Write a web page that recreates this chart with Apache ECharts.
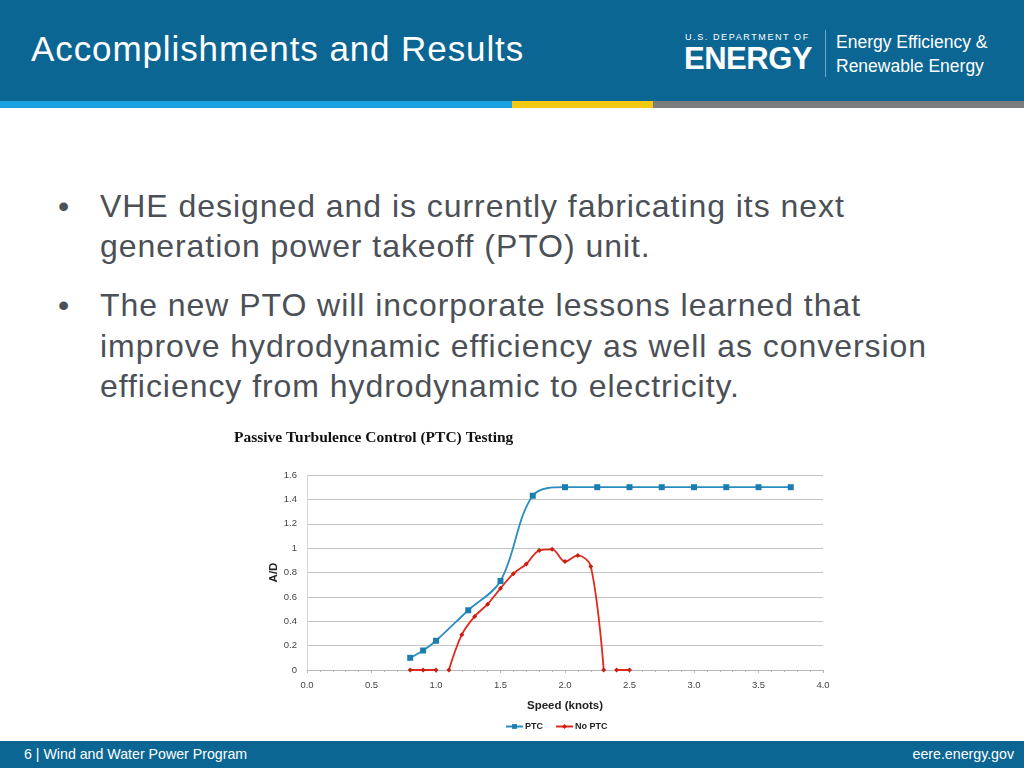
<!DOCTYPE html>
<html><head><meta charset="utf-8">
<script src="https://cdn.jsdelivr.net/npm/echarts@6/dist/echarts.min.js"></script>
<style>
html,body{margin:0;padding:0;width:1024px;height:768px;overflow:hidden;background:#fff;font-family:"Liberation Sans",Arial,sans-serif;}
.abs{position:absolute;white-space:nowrap;}
#header{position:absolute;left:0;top:0;width:1024px;height:101px;background:#0b6694;}
#footer{position:absolute;left:0;top:741px;width:1024px;height:27px;background:#0b6694;}
.line{position:absolute;left:100px;font-size:32px;letter-spacing:0.95px;color:#4b5057;line-height:40px;white-space:nowrap;}
.bul{position:absolute;left:58px;font-size:32px;color:#4b5057;line-height:40px;}
#chart{position:absolute;left:225px;top:420px;width:620px;height:320px;}
</style></head>
<body>
<div id="header"></div>
<div class="abs" style="left:0;top:101px;width:512px;height:7px;background:#1ba1dd"></div>
<div class="abs" style="left:512px;top:101px;width:141px;height:7px;background:#f3c913"></div>
<div class="abs" style="left:653px;top:101px;width:371px;height:7px;background:#7b7c7e"></div>
<div class="abs" style="left:31px;top:28px;font-size:35px;letter-spacing:0.9px;color:#fff;line-height:42px;">Accomplishments and Results</div>
<div class="abs" style="left:685px;top:31px;font-size:9px;letter-spacing:1.6px;color:#fff;line-height:12px;">U.S. DEPARTMENT OF</div>
<div class="abs" style="left:684px;top:42px;font-size:31px;font-weight:bold;color:#fff;line-height:34px;letter-spacing:-0.5px;">ENERGY</div>
<div class="abs" style="left:825px;top:30px;width:1px;height:47px;background:#6fa8c8"></div>
<div class="abs" style="left:836px;top:31px;font-size:17.5px;color:#fff;line-height:22px;">Energy Efficiency &amp;</div>
<div class="abs" style="left:836px;top:55px;font-size:17.5px;color:#fff;line-height:22px;">Renewable Energy</div>

<div class="bul" style="top:186px">•</div>
<div class="line" style="top:186px">VHE designed and is currently fabricating its next</div>
<div class="line" style="top:226px">generation power takeoff (PTO) unit.</div>
<div class="bul" style="top:285px">•</div>
<div class="line" style="top:285px">The new PTO will incorporate lessons learned that</div>
<div class="line" style="top:326px">improve hydrodynamic efficiency as well as conversion</div>
<div class="line" style="top:366px">efficiency from hydrodynamic to electricity.</div>

<div id="chart"></div>
<div id="footer"></div>
<div class="abs" style="left:24px;top:745px;font-size:14.2px;color:#fff;line-height:18px;">6 | Wind and Water Power Program</div>
<div class="abs" style="right:10px;top:745px;font-size:14.2px;color:#fff;line-height:18px;">eere.energy.gov</div>

<script>
var chartTitle = 'Passive Turbulence Control (PTC) Testing';
var xAxisName = 'Speed (knots)';
var yAxisName = 'A/D';
var seriesNames = ['PTC', 'No PTC'];
var ptcSpeed = [0.8, 0.9, 1.0, 1.25, 1.5, 1.75, 2.0, 2.25, 2.5, 2.75, 3.0, 3.25, 3.5, 3.75];
var ptcAD    = [0.10, 0.16, 0.24, 0.49, 0.73, 1.43, 1.50, 1.50, 1.50, 1.50, 1.50, 1.50, 1.50, 1.50];
var noPtcSpeed = [0.8, 0.9, 1.0, 1.05, 1.1, 1.2, 1.3, 1.4, 1.5, 1.6, 1.7, 1.8, 1.9, 2.0, 2.1, 2.2, 2.3, 2.35, 2.4, 2.5];
var noPtcAD    = [0, 0, 0, null, 0, 0.29, 0.44, 0.54, 0.67, 0.79, 0.87, 0.98, 0.99, 0.89, 0.94, 0.85, 0, null, 0, 0];

function pairs(xs, ys){ return xs.map(function(x,i){ return [x, ys[i] === null ? '-' : ys[i]]; }); }

var chart = echarts.init(document.getElementById('chart'));
chart.setOption({
  backgroundColor: '#fff',
  animation: false,
  title: {text: chartTitle, left: 4, top: 5,
    textStyle: {fontFamily: '"Liberation Serif","DejaVu Serif",serif', fontWeight: 'bold', fontSize: 15.5, color: '#111'}},
  legend: {bottom: 4, left: 275, itemGap: 12, itemWidth: 17, itemHeight: 6,
    textStyle: {fontSize: 9, fontWeight: 'bold', color: '#222', padding: [0, 0, 0, -3]},
    data: seriesNames},
  grid: {left: 82, right: 22, top: 55, bottom: 70},
  xAxis: {type: 'value', min: 0, max: 4, interval: 0.5,
    name: xAxisName, nameLocation: 'middle', nameGap: 30,
    nameTextStyle: {fontSize: 11.5, fontWeight: 'bold', color: '#222'},
    axisLine: {lineStyle: {color: '#b8b8b8'}},
    axisTick: {show: true, length: 3, lineStyle: {color: '#b8b8b8'}},
    minorTick: {show: true, splitNumber: 5, length: 2, lineStyle: {color: '#b8b8b8'}},
    splitLine: {show: false},
    axisLabel: {fontSize: 9.5, color: '#444', margin: 10, formatter: function(v){ return v.toFixed(1); }}},
  yAxis: {type: 'value', min: 0, max: 1.6, interval: 0.2,
    name: yAxisName, nameLocation: 'middle', nameGap: 27, nameRotate: 90, nameMoveOverlap: false,
    nameTextStyle: {fontSize: 11.5, fontWeight: 'bold', color: '#222'},
    axisLine: {show: true, lineStyle: {color: '#d6d6d6'}},
    axisTick: {show: false},
    splitLine: {lineStyle: {color: '#c4c4c4'}},
    axisLabel: {fontSize: 9.5, color: '#444', margin: 10,
      formatter: function(v){ return String(Math.round(v*10)/10); }}},
  series: [
    {name: seriesNames[0], type: 'line', smooth: 0.35, data: pairs(ptcSpeed, ptcAD),
      symbol: 'rect', symbolSize: 6, color: '#2a8dbf',
      lineStyle: {width: 1.8, color: '#2a8dbf'}, itemStyle: {color: '#1c7eae'}},
    {name: seriesNames[1], type: 'line', smooth: 0.35, connectNulls: false, data: pairs(noPtcSpeed, noPtcAD),
      symbol: 'diamond', symbolSize: 5, color: '#e0281c',
      lineStyle: {width: 1.8, color: '#e0281c'}, itemStyle: {color: '#c81e14'}}
  ]
});
</script>
</body></html>
